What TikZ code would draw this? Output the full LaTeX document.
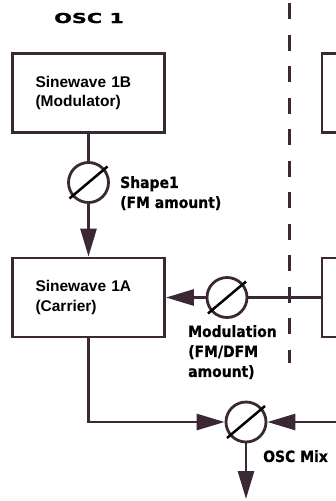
\documentclass[tikz,border=0pt]{standalone}
\usepackage{fontspec}
\setmainfont{Liberation Sans}
\newfontfamily\lblfont{DejaVu Sans}[FakeStretch=0.9, FakeBold=0.6]
\newfontfamily\titlefont{DejaVu Sans}[FakeStretch=1.52, FakeBold=1.2]
\usetikzlibrary{arrows.meta}
\definecolor{wire}{RGB}{58,40,52}

\begin{document}
\begin{tikzpicture}[x=1pt, y=-1pt,
    osc/.style={draw=wire, line width=2.8pt, minimum width=152pt,
                minimum height=79pt, text width=106pt, inner xsep=23pt,
                align=left, font=\bfseries\fontsize{15.5}{19.5}\selectfont},
    knob/.style={draw=wire, line width=2.8pt, circle, minimum size=40pt,
                 inner sep=0pt},
    link/.style={draw=wire, line width=2.8pt},
    feed/.style={link, -{Triangle[length=28pt, width=16pt]}},
    slash/.style={black, line width=2.5pt},
    lbl/.style={font=\lblfont\bfseries\fontsize{15.5}{20}\selectfont,
                align=left, inner sep=0pt},
]
\useasboundingbox (0,0) rectangle (336,501);

% Header
\node[font=\titlefont\bfseries\fontsize{13.7}{16}\selectfont, anchor=base west,
      inner sep=0pt] (title) at (54,23) {OSC 1};

% Divider between oscillators
\draw[wire, line width=3pt, dash pattern=on 16pt off 15.5pt] (289,3) -- (289,363);

% Oscillator 1 sinewaves
\node[osc] (osc1b) at (88.5,93)   {Sinewave 1B\\(Modulator)};
\node[osc] (osc1a) at (88.5,297.5) {Sinewave 1A\\(Carrier)};

% Oscillator 2 (cut off at the edge)
\node[osc, anchor=west] (osc2b) at (320.5,93)   {};
\node[osc, anchor=west] (osc2a) at (320.5,297.5) {};

% Amount knobs
\node[knob] (shp) at (88.5,182.5) {};
\node[knob] (mod) at (227,297.5)  {};
\node[knob] (mix) at (246,422)    {};
\foreach \k in {shp,mod,mix}
    \draw[slash] (\k.center) ++(-19,16) -- ++(38,-32);

% Free ends
\coordinate (inR) at (340,422);
\coordinate (out) at (246,499);

% Signal flow
\draw[link] (osc1b) -- (shp);
\draw[feed] (shp) -- (osc1a);
\draw[link] (osc2a) -- (mod);
\draw[feed] (mod) -- (osc1a);
\draw[feed] (osc1a.south) |- (mix.west);
\draw[feed] (inR) -- (mix);
\draw[feed] (mix) -- (out);

% Knob labels
\node[lbl, anchor=north west] (shpl) at (120,176) {Shape1\\(FM amount)};
\node[lbl, anchor=north west] (modl) at (188,325)
    {Modulation\\(FM/DFM\\amount)};
\node[lbl, anchor=north west] (mixl) at (263,450) {OSC Mix};
\end{tikzpicture}
\end{document}
